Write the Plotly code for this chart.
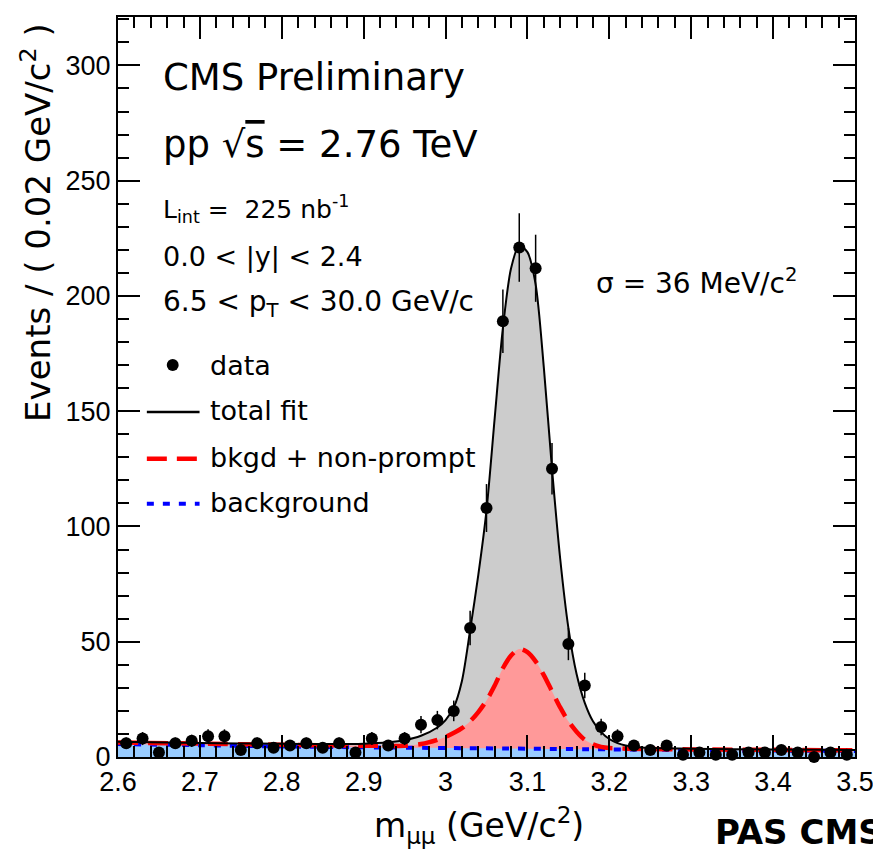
import numpy as np
import plotly.graph_objects as go

# ---------------- data ----------------
mass_centers = [2.61, 2.63, 2.65, 2.67, 2.69, 2.71, 2.73, 2.75, 2.77, 2.79,
                2.81, 2.83, 2.85, 2.87, 2.89, 2.91, 2.93, 2.95, 2.97, 2.99,
                3.01, 3.03, 3.05, 3.07, 3.09, 3.11, 3.13, 3.15, 3.17, 3.19,
                3.21, 3.23, 3.25, 3.27, 3.29, 3.31, 3.33, 3.35, 3.37, 3.39,
                3.41, 3.43, 3.45, 3.47, 3.49]
counts = [6, 8, 2, 6, 7, 9, 9, 3, 6, 4,
          5, 6, 4, 6, 2, 8, 5, 8, 14, 16,
          20, 56, 108, 189, 221, 212, 125, 49, 31, 13,
          9, 5, 3, 5, 1, 2, 1, 1, 2, 2,
          3, 2, 0, 2, 1]

total_fit_x = [2.60, 2.70, 2.80, 2.86, 2.90, 2.93, 2.95, 2.97, 2.99, 3.00,
               3.01, 3.02, 3.03, 3.04, 3.05, 3.06, 3.07, 3.08, 3.09, 3.10,
               3.11, 3.12, 3.13, 3.14, 3.15, 3.16, 3.17, 3.18, 3.19, 3.20,
               3.21, 3.22, 3.24, 3.30, 3.40, 3.50]
total_fit_y = [6.6, 6.1, 5.7, 5.6, 5.8, 6.4, 7.3, 9.2, 12.8, 16.0,
               21.5, 33.0, 55.0, 79.0, 107.0, 147.0, 186.0, 212.0, 222.0, 219.0,
               205.0, 169.0, 125.0, 86.0, 56.0, 36.0, 23.5, 15.5, 10.8, 7.8,
               6.0, 5.0, 4.1, 3.6, 3.2, 3.0]

nonprompt_x = [2.60, 2.70, 2.80, 2.90, 2.95, 2.97, 2.99, 3.00, 3.02, 3.03,
               3.04, 3.05, 3.06, 3.07, 3.08, 3.09, 3.10, 3.11, 3.12, 3.13,
               3.14, 3.15, 3.16, 3.17, 3.18, 3.19, 3.20, 3.22, 3.30, 3.40, 3.50]
nonprompt_y = [6.3, 5.8, 5.3, 4.9, 4.9, 5.6, 7.4, 8.7, 12.5, 15.5,
               19.5, 24.5, 31.0, 38.5, 44.0, 46.8, 45.5, 41.5, 35.5, 28.5,
               21.5, 15.5, 11.0, 7.5, 5.5, 4.4, 3.9, 3.6, 3.3, 3.1, 2.9]

background_x = [2.60, 2.70, 2.80, 2.90, 3.00, 3.10, 3.20, 3.30, 3.40, 3.50]
background_y = [5.6, 5.1, 4.6, 4.2, 3.9, 3.6, 3.3, 3.0, 2.8, 2.6]

x_ticks = [2.6, 2.7, 2.8, 2.9, 3.0, 3.1, 3.2, 3.3, 3.4, 3.5]
x_tick_labels = ["2.6", "2.7", "2.8", "2.9", "3", "3.1", "3.2", "3.3", "3.4", "3.5"]
y_ticks = [0, 50, 100, 150, 200, 250, 300]
y_tick_labels = ["0", "50", "100", "150", "200", "250", "300"]

# ---------------- styling helpers ----------------
SCREEN_W, SCREEN_H = 881, 855
BODY = 8                       # default page margin around the plot div
W, H = SCREEN_W - BODY, SCREEN_H - BODY
# plot frame in screen pixels
L, R, T, B = 118.0, 859.0, 15.0, 757.0


def px(xp):
    return (xp - L) / (R - L)


def py(yp):
    return (B - yp) / (B - T)


TXT = "DejaVu Sans, Liberation Sans, Arial, sans-serif"
TICKF = "Liberation Sans, Arial, sans-serif"

GRAY = "#cccccc"
PINK = "#ff9999"
LBLUE = "#99ccff"
RED_DASH = "20px,10px"
BLUE_DOT = "7px,9px"

fig = go.Figure()

# fills
fig.add_trace(go.Scatter(x=total_fit_x, y=total_fit_y, mode="lines", fill="tozeroy",
                         fillcolor=GRAY, line=dict(width=0, shape="spline", smoothing=0.8),
                         hoverinfo="skip", showlegend=False))
fig.add_trace(go.Scatter(x=nonprompt_x, y=nonprompt_y, mode="lines", fill="tozeroy",
                         fillcolor=PINK, line=dict(width=0, shape="spline", smoothing=0.8),
                         hoverinfo="skip", showlegend=False))
fig.add_trace(go.Scatter(x=background_x, y=background_y, mode="lines", fill="tozeroy",
                         fillcolor=LBLUE, line=dict(width=0, shape="spline", smoothing=0.8),
                         hoverinfo="skip", showlegend=False))
# lines
fig.add_trace(go.Scatter(x=background_x, y=background_y, mode="lines", name="background",
                         line=dict(color="#0000ff", width=4, dash=BLUE_DOT, shape="spline",
                                   smoothing=0.8),
                         showlegend=False))
fig.add_trace(go.Scatter(x=nonprompt_x, y=nonprompt_y, mode="lines", name="bkgd + non-prompt",
                         line=dict(color="#ff0000", width=4.5, dash=RED_DASH, shape="spline",
                                   smoothing=0.8),
                         showlegend=False))
fig.add_trace(go.Scatter(x=total_fit_x, y=total_fit_y, mode="lines", name="total fit",
                         line=dict(color="black", width=2, shape="spline", smoothing=0.8),
                         showlegend=False))
# data
fig.add_trace(go.Scatter(x=mass_centers, y=counts, mode="markers", name="data",
                         marker=dict(symbol="circle", size=12, color="black"),
                         error_y=dict(type="data", array=np.sqrt(np.array(counts, dtype=float)),
                                      color="black", thickness=1.5, width=0),
                         cliponaxis=False, showlegend=False))

axis_common = dict(showline=True, linecolor="black", linewidth=2, mirror="ticks",
                   ticks="inside", tickcolor="black", tickwidth=1.5, ticklen=22,
                   showgrid=False, zeroline=False,
                   tickfont=dict(family=TICKF, size=27, color="black"))

fig.update_xaxes(range=[2.6, 3.5], tickmode="array", tickvals=x_ticks, ticktext=x_tick_labels,
                 minor=dict(ticks="inside", ticklen=11, tickcolor="black", tickwidth=1.5,
                            tick0=2.6, dtick=0.02, showgrid=False),
                 **axis_common)
fig.update_yaxes(range=[0, 321], tickmode="array", tickvals=y_ticks, ticktext=y_tick_labels,
                 minor=dict(ticks="inside", ticklen=11, tickcolor="black", tickwidth=1.5,
                            tick0=0, dtick=10, showgrid=False),
                 **axis_common)

ann = []


def text(x, y, s, size, xanchor="left", yanchor="middle", family=TXT, angle=0):
    ann.append(dict(x=px(x), y=py(y), xref="paper", yref="paper", text=s, showarrow=False,
                    xanchor=xanchor, yanchor=yanchor, textangle=angle,
                    font=dict(family=family, size=size, color="black")))


text(161, 76, "CMS Preliminary", 37)
text(161, 143, "pp √<span style='text-decoration:overline'>s</span> = 2.76 TeV", 37)
text(161, 208, "L<sub>int</sub> =  225 nb<sup>-1</sup>", 25)
text(161, 256, "0.0 &lt; |y| &lt; 2.4", 27)
text(161, 302, "6.5 &lt; p<sub>T</sub> &lt; 30.0 GeV/c", 28)
text(208, 364, "data", 27)
text(208, 410, "total fit", 27)
text(208, 457, "bkgd + non-prompt", 27)
text(208, 502, "background", 27)
text(597, 280, "σ = 36 MeV/c<sup>2</sup>", 28)
text(481, 826, "m<sub>μμ</sub> (GeV/c<sup>2</sup>)", 33, xanchor="center")
text(716, 832, "<b>PAS CMS</b>", 34)
text(36, 19, "Events / ( 0.02 GeV/c<sup>2</sup> )", 34, xanchor="center", yanchor="top",
     angle=-90)

shapes = [
    dict(type="circle", xref="paper", yref="paper", x0=px(167), x1=px(179),
         y0=py(370), y1=py(358), fillcolor="black", line=dict(width=0)),
    dict(type="line", xref="paper", yref="paper", x0=px(147), x1=px(200), y0=py(411),
         y1=py(411), line=dict(color="black", width=2.5)),
    dict(type="line", xref="paper", yref="paper", x0=px(147), x1=px(200), y0=py(458),
         y1=py(458), line=dict(color="#ff0000", width=4.5, dash=RED_DASH)),
    dict(type="line", xref="paper", yref="paper", x0=px(147), x1=px(200), y0=py(503),
         y1=py(503), line=dict(color="#0000ff", width=4, dash=BLUE_DOT)),
]

fig.update_layout(width=W, height=H, autosize=False,
                  margin=dict(l=L - BODY, r=SCREEN_W - R, t=T - BODY, b=SCREEN_H - B, pad=0),
                  plot_bgcolor="white", paper_bgcolor="white",
                  showlegend=False, annotations=ann, shapes=shapes)

fig.write_html("out.html")
